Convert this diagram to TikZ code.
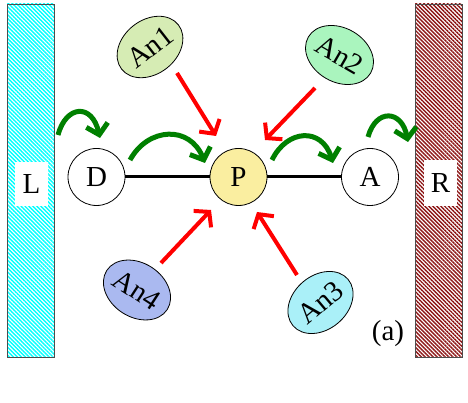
\documentclass[tikz,border=0pt]{standalone}
\usepackage{fontspec}
\setmainfont{Liberation Serif}
\usetikzlibrary{shapes.geometric,arrows.meta,patterns.meta}

\definecolor{hopgreen}{RGB}{0,128,0}
\definecolor{wallred}{RGB}{140,20,20}
\definecolor{pyellow}{RGB}{250,238,160}
\definecolor{anone}{RGB}{214,236,180}
\definecolor{antwo}{RGB}{170,245,190}
\definecolor{anthree}{RGB}{170,240,248}
\definecolor{anfour}{RGB}{170,185,240}

\tikzset{
  site/.style={circle,draw,line width=0.8pt,minimum size=57pt,inner sep=0pt},
  anc/.style={ellipse,draw,line width=0.8pt,minimum width=72pt,minimum height=54pt,inner sep=0pt},
  push/.style={red,line width=4pt,-{Straight Barb[length=10pt,width=24pt]}},
  hop/.style={hopgreen,line width=5pt,-{Straight Barb[length=10pt,width=22pt]}},
  wall/.style={draw=black!70,line width=0.8pt},
}

\begin{document}
\begin{tikzpicture}[x=1pt,y=1pt,font=\fontsize{29}{30}\selectfont]
\useasboundingbox (0,0) rectangle (468,403);

% walls
\draw[wall,pattern={Lines[angle=-45,distance=2.8pt,line width=1.4pt]},pattern color=cyan] (7,46) rectangle (54,399);
\draw[wall,pattern={Lines[angle=-45,distance=2.8pt,line width=1.4pt]},pattern color=wallred] (415,46) rectangle (462,399);
\fill[white] (15,197) rectangle (48,241);
\fill[white] (424,197) rectangle (457,243);
\node (L) at (31.5,219) {L};
\node (R) at (440.5,220) {R};

% chain
\node[site] (D) at (96.5,226) {D};
\node[site,fill=pyellow] (P) at (238.5,226) {P};
\node[site] (A) at (370,226) {A};
\draw[line width=3pt] (D) -- (P) -- (A);

% antennas
\node[anc,fill=anone,rotate=38] (An1) at (150,356) {An1};
\node[anc,fill=antwo,rotate=-30] (An2) at (339.5,348) {An2};
\node[anc,fill=anthree,rotate=40] (An3) at (320.5,100.5) {An3};
\node[anc,fill=anfour,rotate=-33] (An4) at (137,113) {An4};

\coordinate (An1-out) at (177,330);
\coordinate (An2-out) at (315,315);
\coordinate (An3-out) at (297,128);
\coordinate (An4-out) at (161,140);
\coordinate (P-in1) at (216,267);
\coordinate (P-in2) at (265,263);
\coordinate (P-in3) at (257,191);
\coordinate (P-in4) at (211,193);
\draw[push] (An1-out) -- (P-in1);
\draw[push] (An2-out) -- (P-in2);
\draw[push] (An3-out) -- (P-in3);
\draw[push] (An4-out) -- (P-in4);

% hops
\coordinate (L-out) at (58,268);
\coordinate (D-in) at (100,265);
\coordinate (D-out) at (130,243);
\coordinate (P-in) at (205,240);
\coordinate (P-out) at (272,243);
\coordinate (A-in) at (333,240);
\coordinate (A-out) at (368,266);
\coordinate (R-in) at (408,261);
\draw[hop] (L-out) .. controls (66,298) and (92,300) .. (D-in);
\draw[hop] (D-out) .. controls (148,276) and (190,278) .. (P-in);
\draw[hop] (P-out) .. controls (287,274) and (322,276) .. (A-in);
\draw[hop] (A-out) .. controls (376,295) and (402,293) .. (R-in);

\node (lab) at (388,69) {(a)};
\end{tikzpicture}
\end{document}
